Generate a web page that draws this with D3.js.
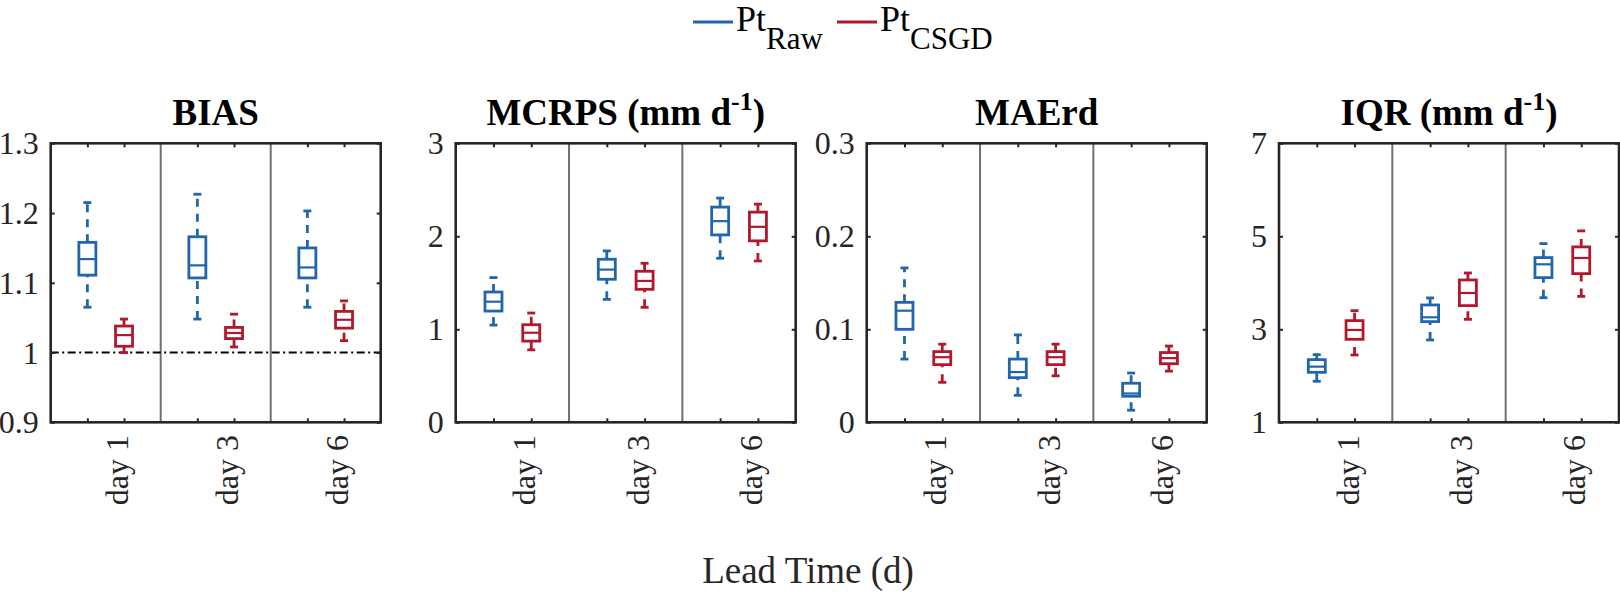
<!DOCTYPE html>
<html>
<head>
<meta charset="utf-8">
<script src="https://cdn.jsdelivr.net/npm/d3@7/dist/d3.min.js"></script>
<style>
  html, body { margin: 0; padding: 0; background: #fff; }
  svg { display: block; }
  text { font-family: "Liberation Serif", "Times New Roman", Times, serif; }
</style>
</head>
<body>
<svg id="chart" width="1620" height="592"></svg>
<script>
// ---------------- data ----------------
const days = ["day 1", "day 3", "day 6"];
const seriesNames = ["Raw", "CSGD"];
const seriesColors = ["#2166AC", "#B2182B"];
const panelTitles = ["BIAS", "MCRPS (mm d", "MAErd", "IQR (mm d"];
const panelSuper = ["", "-1", "", "-1"];

// each box: [min, q1, median, q3, max] per lead day
const biasRaw   = [[1.065, 1.111, 1.134, 1.158, 1.215], [1.048, 1.107, 1.125, 1.166, 1.227], [1.065, 1.107, 1.122, 1.150, 1.203]];
const biasCsgd  = [[1.000, 1.009, 1.025, 1.038, 1.048], [1.008, 1.020, 1.028, 1.036, 1.055], [1.017, 1.035, 1.047, 1.059, 1.074]];
const mcrpsRaw  = [[1.045, 1.196, 1.297, 1.401, 1.556], [1.322, 1.538, 1.642, 1.753, 1.843], [1.764, 2.015, 2.163, 2.314, 2.411]];
const mcrpsCsgd = [[0.779, 0.873, 0.963, 1.049, 1.175], [1.236, 1.430, 1.520, 1.624, 1.710], [1.735, 1.951, 2.102, 2.260, 2.346]];
const maerdRaw  = [[0.068, 0.100, 0.120, 0.129, 0.166], [0.029, 0.048, 0.054, 0.068, 0.094], [0.013, 0.028, 0.031, 0.042, 0.053]];
const maerdCsgd = [[0.043, 0.062, 0.070, 0.076, 0.084], [0.050, 0.062, 0.070, 0.076, 0.084], [0.055, 0.063, 0.069, 0.075, 0.082]];
const iqrRaw    = [[1.882, 2.075, 2.197, 2.348, 2.455], [2.771, 3.165, 3.258, 3.523, 3.674], [3.680, 4.111, 4.398, 4.542, 4.843]];
const iqrCsgd   = [[2.448, 2.785, 2.986, 3.186, 3.401], [3.215, 3.509, 3.781, 4.061, 4.211], [3.708, 4.197, 4.534, 4.772, 5.116]];

const yDomains = [[0.9, 1.3], [0, 3], [0, 0.3], [1, 7]];
const yTicks = [[0.9, 1.0, 1.1, 1.2, 1.3], [0, 1, 2, 3], [0, 0.1, 0.2, 0.3], [1, 3, 5, 7]];
const refLines = [1.0, null, null, null];

const panelData = [[biasRaw, biasCsgd], [mcrpsRaw, mcrpsCsgd], [maerdRaw, maerdCsgd], [iqrRaw, iqrCsgd]];

// ---------------- layout ----------------
const FONT = "Liberation Serif, Times New Roman, Times, serif";
const lefts = [50.7, 455.7, 866.7, 1279];
const widths = [330, 340, 340, 340];
const plotTop = 143.3, plotBottom = 422.3;
const boxW = 17, capW = 8;
const axisColor = "#262626";

const svg = d3.select("#chart");
const fmt = d => String(+(+d).toFixed(2));

panelData.forEach((pd, p) => {
  const left = lefts[p], right = lefts[p] + widths[p];
  const x = d3.scaleLinear().domain([0, days.length]).range([left, right]);
  const y = d3.scaleLinear().domain(yDomains[p]).range([plotBottom, plotTop]);
  const g = svg.append("g");

  // group dividers
  for (let i = 1; i < days.length; i++) {
    g.append("line").attr("x1", x(i)).attr("x2", x(i)).attr("y1", y(yDomains[p][0])).attr("y2", y(yDomains[p][1]))
      .attr("stroke", "#707070").attr("stroke-width", 2);
  }

  // reference line
  if (refLines[p] !== null) {
    g.append("line").attr("x1", left).attr("x2", right).attr("y1", y(refLines[p])).attr("y2", y(refLines[p]))
      .attr("stroke", "#000").attr("stroke-width", 2).attr("stroke-dasharray", "8,3.5,2,3.5");
  }

  const positions = [];
  days.forEach((d, i) => seriesNames.forEach((s, k) => positions.push(i + (k + 1) / 3)));

  // boxes
  pd.forEach((ser, k) => {
    const col = seriesColors[k];
    ser.forEach((b, i) => {
      const cx = x(i + (k + 1) / 3);
      const [mn, q1, md, q3, mx] = b;
      const bg = g.append("g").attr("stroke", col).attr("fill", "none");
      // whiskers (dashed, drawn from lower end upward)
      bg.append("line").attr("x1", cx).attr("x2", cx).attr("y1", y(q3)).attr("y2", y(mx))
        .attr("stroke-width", 2.8).attr("stroke-dasharray", "8,7");
      bg.append("line").attr("x1", cx).attr("x2", cx).attr("y1", y(mn)).attr("y2", y(q1))
        .attr("stroke-width", 2.8).attr("stroke-dasharray", "8,7");
      // caps
      [mn, mx].forEach(v => {
        bg.append("line").attr("x1", cx - capW / 2).attr("x2", cx + capW / 2).attr("y1", y(v)).attr("y2", y(v))
          .attr("stroke-width", 2.8);
      });
      // box
      bg.append("rect").attr("x", cx - boxW / 2).attr("y", y(q3)).attr("width", boxW).attr("height", y(q1) - y(q3))
        .attr("stroke-width", 2.8);
      // median
      bg.append("line").attr("x1", cx - boxW / 2).attr("x2", cx + boxW / 2).attr("y1", y(md)).attr("y2", y(md))
        .attr("stroke-width", 2.2);
    });
  });

  // axes (inward ticks on all sides)
  const ax = (axis, tx, ty) => {
    const a = g.append("g").attr("transform", `translate(${tx},${ty})`).call(axis);
    a.select(".domain").remove();
    a.attr("font-family", FONT);
    a.selectAll(".tick line").attr("stroke", axisColor).attr("stroke-width", 2);
    return a;
  };
  const yl = ax(d3.axisLeft(y).tickValues(yTicks[p]).tickSize(-4).tickPadding(12).tickFormat(fmt), left, 0);
  yl.selectAll("text").attr("font-size", 32).attr("fill", axisColor).attr("font-family", FONT).attr("dy", "0.33em");
  ax(d3.axisRight(y).tickValues(yTicks[p]).tickSize(-4).tickFormat(""), right, 0);
  ax(d3.axisBottom(x).tickValues(positions).tickSize(-4).tickFormat(""), 0, plotBottom);
  ax(d3.axisTop(x).tickValues(positions).tickSize(-4).tickFormat(""), 0, plotTop);

  // frame
  g.append("rect").attr("x", left).attr("y", plotTop).attr("width", right - left).attr("height", plotBottom - plotTop)
    .attr("fill", "none").attr("stroke", axisColor).attr("stroke-width", 2.6);

  // day labels (rotated)
  days.forEach((d, i) => {
    const tx = x(i + 2 / 3) + 4;
    g.append("text").attr("transform", `translate(${tx},435) rotate(-90)`)
      .attr("text-anchor", "end").attr("font-size", 32).attr("font-family", FONT).attr("fill", axisColor).text(d);
  });

  // title
  const t = g.append("text").attr("x", (left + right) / 2).attr("y", 125).attr("text-anchor", "middle")
    .attr("font-size", 37).attr("font-weight", "bold").attr("font-family", FONT).attr("fill", "#000");
  t.append("tspan").text(panelTitles[p]);
  if (panelSuper[p]) {
    t.append("tspan").attr("font-size", 26).attr("dy", -15).text(panelSuper[p]);
    t.append("tspan").attr("dy", 15).text(")");
  }
});

// legend
const legendX = [693, 837];
seriesNames.forEach((s, k) => {
  const lx = legendX[k];
  svg.append("line").attr("x1", lx).attr("x2", lx + 40).attr("y1", 22).attr("y2", 22)
    .attr("stroke", seriesColors[k]).attr("stroke-width", 2.8);
  const t = svg.append("text").attr("x", lx + 43).attr("y", 31).attr("font-size", 36)
    .attr("font-family", FONT).attr("fill", "#000");
  t.append("tspan").text("Pt");
  t.append("tspan").attr("font-size", 31).attr("dy", 18).text(s);
});

// x label
svg.append("text").attr("x", 808).attr("y", 583).attr("text-anchor", "middle")
  .attr("font-size", 37).attr("font-family", FONT).attr("fill", axisColor).text("Lead Time (d)");
</script>
</body>
</html>
